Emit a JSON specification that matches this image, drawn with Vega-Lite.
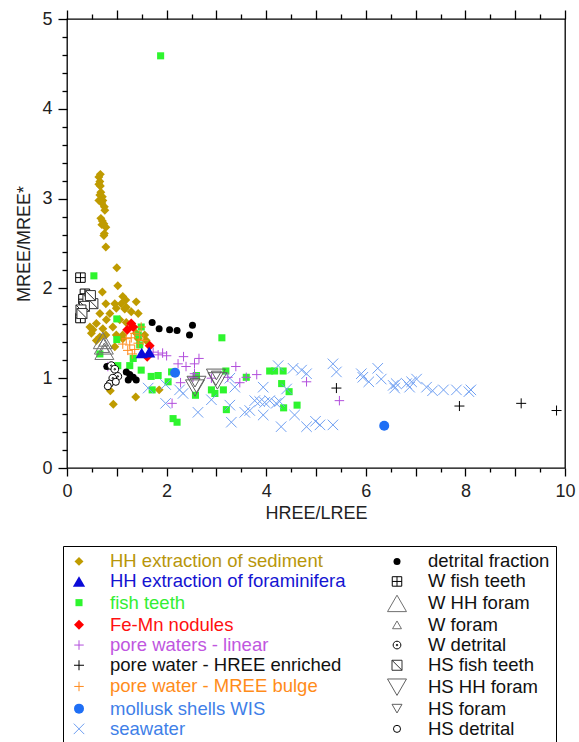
{
  "$schema": "https://vega.github.io/schema/vega-lite/v6.json",
  "width": 498,
  "height": 449,
  "autosize": {"type": "none"},
  "padding": {"left": 67, "top": 19, "right": 14, "bottom": 274},
  "background": "white",
  "config": {
    "font": "Liberation Sans",
    "view": {"stroke": "black", "strokeWidth": 1.3},
    "axis": {
      "domain": false, "grid": false,
      "labelFont": "Liberation Sans", "labelFontSize": 18, "labelColor": "#222",
      "titleFont": "Liberation Sans", "titleFontSize": 18, "titleFontWeight": "normal", "titleColor": "#222",
      "tickColor": "black", "tickWidth": 1.3, "labelOverlap": false, "labelFlush": false
    }
  },
  "data": {"values": [
    {"group": "HH extraction of sediment", "x": 0.67, "y": 3.27},
    {"group": "HH extraction of sediment", "x": 0.64, "y": 3.24},
    {"group": "HH extraction of sediment", "x": 0.66, "y": 3.19},
    {"group": "HH extraction of sediment", "x": 0.64, "y": 3.16},
    {"group": "HH extraction of sediment", "x": 0.67, "y": 3.14},
    {"group": "HH extraction of sediment", "x": 0.68, "y": 3.07},
    {"group": "HH extraction of sediment", "x": 0.66, "y": 3.04},
    {"group": "HH extraction of sediment", "x": 0.71, "y": 3.02},
    {"group": "HH extraction of sediment", "x": 0.64, "y": 2.98},
    {"group": "HH extraction of sediment", "x": 0.72, "y": 2.98},
    {"group": "HH extraction of sediment", "x": 0.70, "y": 2.95},
    {"group": "HH extraction of sediment", "x": 0.75, "y": 2.91},
    {"group": "HH extraction of sediment", "x": 0.76, "y": 2.87},
    {"group": "HH extraction of sediment", "x": 0.68, "y": 2.78},
    {"group": "HH extraction of sediment", "x": 0.71, "y": 2.75},
    {"group": "HH extraction of sediment", "x": 0.74, "y": 2.72},
    {"group": "HH extraction of sediment", "x": 0.70, "y": 2.71},
    {"group": "HH extraction of sediment", "x": 0.78, "y": 2.68},
    {"group": "HH extraction of sediment", "x": 0.75, "y": 2.61},
    {"group": "HH extraction of sediment", "x": 0.74, "y": 2.59},
    {"group": "HH extraction of sediment", "x": 0.78, "y": 2.46},
    {"group": "HH extraction of sediment", "x": 1.00, "y": 2.23},
    {"group": "HH extraction of sediment", "x": 1.02, "y": 2.03},
    {"group": "HH extraction of sediment", "x": 0.71, "y": 1.96},
    {"group": "HH extraction of sediment", "x": 1.12, "y": 1.91},
    {"group": "HH extraction of sediment", "x": 1.18, "y": 1.87},
    {"group": "HH extraction of sediment", "x": 1.39, "y": 1.85},
    {"group": "HH extraction of sediment", "x": 0.78, "y": 1.83},
    {"group": "HH extraction of sediment", "x": 0.96, "y": 1.83},
    {"group": "HH extraction of sediment", "x": 1.09, "y": 1.83},
    {"group": "HH extraction of sediment", "x": 0.99, "y": 1.78},
    {"group": "HH extraction of sediment", "x": 1.16, "y": 1.77},
    {"group": "HH extraction of sediment", "x": 1.19, "y": 1.79},
    {"group": "HH extraction of sediment", "x": 1.29, "y": 1.74},
    {"group": "HH extraction of sediment", "x": 1.43, "y": 1.72},
    {"group": "HH extraction of sediment", "x": 0.66, "y": 1.72},
    {"group": "HH extraction of sediment", "x": 0.86, "y": 1.72},
    {"group": "HH extraction of sediment", "x": 0.59, "y": 1.61},
    {"group": "HH extraction of sediment", "x": 0.79, "y": 1.65},
    {"group": "HH extraction of sediment", "x": 1.06, "y": 1.65},
    {"group": "HH extraction of sediment", "x": 1.19, "y": 1.62},
    {"group": "HH extraction of sediment", "x": 0.52, "y": 1.54},
    {"group": "HH extraction of sediment", "x": 0.46, "y": 1.57},
    {"group": "HH extraction of sediment", "x": 0.72, "y": 1.55},
    {"group": "HH extraction of sediment", "x": 0.92, "y": 1.57},
    {"group": "HH extraction of sediment", "x": 0.49, "y": 1.50},
    {"group": "HH extraction of sediment", "x": 0.66, "y": 1.46},
    {"group": "HH extraction of sediment", "x": 0.59, "y": 1.42},
    {"group": "HH extraction of sediment", "x": 0.78, "y": 1.48},
    {"group": "HH extraction of sediment", "x": 0.99, "y": 1.48},
    {"group": "HH extraction of sediment", "x": 1.12, "y": 1.48},
    {"group": "HH extraction of sediment", "x": 1.39, "y": 1.50},
    {"group": "HH extraction of sediment", "x": 1.56, "y": 1.48},
    {"group": "HH extraction of sediment", "x": 1.12, "y": 1.44},
    {"group": "HH extraction of sediment", "x": 1.43, "y": 1.44},
    {"group": "HH extraction of sediment", "x": 1.59, "y": 1.42},
    {"group": "HH extraction of sediment", "x": 0.96, "y": 1.35},
    {"group": "HH extraction of sediment", "x": 0.87, "y": 0.86},
    {"group": "HH extraction of sediment", "x": 1.38, "y": 0.79},
    {"group": "HH extraction of sediment", "x": 0.93, "y": 0.71},
    {"group": "HH extraction of sediment", "x": 1.85, "y": 0.87},
    {"group": "fish teeth", "x": 1.88, "y": 4.59},
    {"group": "fish teeth", "x": 0.54, "y": 2.14},
    {"group": "fish teeth", "x": 1.00, "y": 1.66},
    {"group": "fish teeth", "x": 1.49, "y": 1.57},
    {"group": "fish teeth", "x": 1.43, "y": 1.48},
    {"group": "fish teeth", "x": 1.00, "y": 1.43},
    {"group": "fish teeth", "x": 1.46, "y": 1.37},
    {"group": "fish teeth", "x": 0.66, "y": 1.27},
    {"group": "fish teeth", "x": 1.33, "y": 1.22},
    {"group": "fish teeth", "x": 1.26, "y": 1.14},
    {"group": "fish teeth", "x": 1.02, "y": 1.14},
    {"group": "fish teeth", "x": 1.49, "y": 1.09},
    {"group": "fish teeth", "x": 1.69, "y": 1.02},
    {"group": "fish teeth", "x": 1.83, "y": 1.03},
    {"group": "fish teeth", "x": 2.10, "y": 1.07},
    {"group": "fish teeth", "x": 2.03, "y": 0.96},
    {"group": "fish teeth", "x": 1.71, "y": 0.87},
    {"group": "fish teeth", "x": 2.60, "y": 1.03},
    {"group": "fish teeth", "x": 3.11, "y": 1.45},
    {"group": "fish teeth", "x": 3.19, "y": 1.08},
    {"group": "fish teeth", "x": 2.90, "y": 0.87},
    {"group": "fish teeth", "x": 2.97, "y": 0.83},
    {"group": "fish teeth", "x": 3.14, "y": 0.87},
    {"group": "fish teeth", "x": 2.58, "y": 0.81},
    {"group": "fish teeth", "x": 3.60, "y": 1.01},
    {"group": "fish teeth", "x": 4.07, "y": 1.08},
    {"group": "fish teeth", "x": 4.17, "y": 1.08},
    {"group": "fish teeth", "x": 4.34, "y": 1.08},
    {"group": "fish teeth", "x": 4.31, "y": 0.94},
    {"group": "fish teeth", "x": 4.46, "y": 0.85},
    {"group": "fish teeth", "x": 3.20, "y": 0.65},
    {"group": "fish teeth", "x": 4.35, "y": 0.67},
    {"group": "fish teeth", "x": 4.62, "y": 0.70},
    {"group": "fish teeth", "x": 2.13, "y": 0.55},
    {"group": "fish teeth", "x": 2.21, "y": 0.51},
    {"group": "seawater", "x": 1.63, "y": 0.89},
    {"group": "seawater", "x": 1.98, "y": 0.93},
    {"group": "seawater", "x": 1.98, "y": 0.72},
    {"group": "seawater", "x": 2.26, "y": 0.87},
    {"group": "seawater", "x": 2.33, "y": 0.83},
    {"group": "seawater", "x": 2.63, "y": 0.62},
    {"group": "seawater", "x": 2.90, "y": 0.76},
    {"group": "seawater", "x": 3.27, "y": 0.70},
    {"group": "seawater", "x": 3.30, "y": 0.51},
    {"group": "seawater", "x": 3.37, "y": 0.90},
    {"group": "seawater", "x": 3.27, "y": 1.00},
    {"group": "seawater", "x": 3.57, "y": 0.62},
    {"group": "seawater", "x": 3.67, "y": 0.64},
    {"group": "seawater", "x": 3.77, "y": 0.75},
    {"group": "seawater", "x": 3.87, "y": 0.74},
    {"group": "seawater", "x": 3.97, "y": 0.73},
    {"group": "seawater", "x": 3.94, "y": 0.90},
    {"group": "seawater", "x": 3.94, "y": 0.59},
    {"group": "seawater", "x": 4.07, "y": 0.75},
    {"group": "seawater", "x": 4.20, "y": 0.72},
    {"group": "seawater", "x": 4.27, "y": 0.74},
    {"group": "seawater", "x": 4.24, "y": 1.14},
    {"group": "seawater", "x": 4.41, "y": 0.88},
    {"group": "seawater", "x": 4.54, "y": 1.11},
    {"group": "seawater", "x": 4.71, "y": 1.09},
    {"group": "seawater", "x": 4.81, "y": 1.05},
    {"group": "seawater", "x": 4.30, "y": 0.46},
    {"group": "seawater", "x": 4.57, "y": 0.59},
    {"group": "seawater", "x": 4.81, "y": 0.46},
    {"group": "seawater", "x": 4.99, "y": 0.52},
    {"group": "seawater", "x": 5.08, "y": 0.48},
    {"group": "seawater", "x": 5.34, "y": 0.48},
    {"group": "seawater", "x": 5.34, "y": 1.16},
    {"group": "seawater", "x": 5.41, "y": 1.07},
    {"group": "seawater", "x": 5.91, "y": 1.05},
    {"group": "seawater", "x": 5.94, "y": 1.01},
    {"group": "seawater", "x": 6.06, "y": 0.96},
    {"group": "seawater", "x": 6.24, "y": 1.11},
    {"group": "seawater", "x": 6.31, "y": 0.99},
    {"group": "seawater", "x": 6.55, "y": 0.92},
    {"group": "seawater", "x": 6.58, "y": 0.89},
    {"group": "seawater", "x": 6.61, "y": 0.94},
    {"group": "seawater", "x": 6.82, "y": 0.94},
    {"group": "seawater", "x": 6.88, "y": 0.90},
    {"group": "seawater", "x": 6.92, "y": 0.96},
    {"group": "seawater", "x": 7.02, "y": 0.99},
    {"group": "seawater", "x": 7.22, "y": 0.90},
    {"group": "seawater", "x": 7.34, "y": 0.86},
    {"group": "seawater", "x": 7.56, "y": 0.87},
    {"group": "seawater", "x": 7.82, "y": 0.87},
    {"group": "seawater", "x": 8.07, "y": 0.85},
    {"group": "seawater", "x": 8.11, "y": 0.87},
    {"group": "pore waters - linear", "x": 1.73, "y": 1.29},
    {"group": "pore waters - linear", "x": 1.83, "y": 1.26},
    {"group": "pore waters - linear", "x": 1.92, "y": 1.28},
    {"group": "pore waters - linear", "x": 2.00, "y": 1.25},
    {"group": "pore waters - linear", "x": 2.34, "y": 1.24},
    {"group": "pore waters - linear", "x": 2.65, "y": 1.22},
    {"group": "pore waters - linear", "x": 2.23, "y": 1.16},
    {"group": "pore waters - linear", "x": 2.39, "y": 1.13},
    {"group": "pore waters - linear", "x": 2.56, "y": 1.16},
    {"group": "pore waters - linear", "x": 2.56, "y": 1.05},
    {"group": "pore waters - linear", "x": 2.28, "y": 0.95},
    {"group": "pore waters - linear", "x": 2.53, "y": 1.01},
    {"group": "pore waters - linear", "x": 2.90, "y": 1.00},
    {"group": "pore waters - linear", "x": 3.23, "y": 1.01},
    {"group": "pore waters - linear", "x": 3.39, "y": 1.13},
    {"group": "pore waters - linear", "x": 3.47, "y": 0.95},
    {"group": "pore waters - linear", "x": 3.60, "y": 1.01},
    {"group": "pore waters - linear", "x": 3.81, "y": 1.04},
    {"group": "pore waters - linear", "x": 4.81, "y": 0.96},
    {"group": "pore waters - linear", "x": 5.47, "y": 0.75},
    {"group": "pore waters - linear", "x": 2.11, "y": 0.72},
    {"group": "pore waters - linear", "x": 0.82, "y": 1.13},
    {"group": "pore water - MREE bulge", "x": 1.49, "y": 1.57},
    {"group": "pore water - MREE bulge", "x": 1.36, "y": 1.50},
    {"group": "pore water - MREE bulge", "x": 1.46, "y": 1.48},
    {"group": "pore water - MREE bulge", "x": 1.19, "y": 1.44},
    {"group": "pore water - MREE bulge", "x": 1.29, "y": 1.45},
    {"group": "pore water - MREE bulge", "x": 1.53, "y": 1.42},
    {"group": "pore water - MREE bulge", "x": 1.12, "y": 1.38},
    {"group": "pore water - MREE bulge", "x": 1.26, "y": 1.37},
    {"group": "pore water - MREE bulge", "x": 1.43, "y": 1.39},
    {"group": "pore water - MREE bulge", "x": 1.22, "y": 1.31},
    {"group": "pore water - MREE bulge", "x": 1.36, "y": 1.32},
    {"group": "pore water - MREE bulge", "x": 1.31, "y": 1.27},
    {"group": "pore water - HREE enriched", "x": 5.41, "y": 0.89},
    {"group": "pore water - HREE enriched", "x": 7.88, "y": 0.69},
    {"group": "pore water - HREE enriched", "x": 9.12, "y": 0.72},
    {"group": "pore water - HREE enriched", "x": 9.83, "y": 0.64},
    {"group": "Fe-Mn nodules", "x": 1.29, "y": 1.61},
    {"group": "Fe-Mn nodules", "x": 1.21, "y": 1.54},
    {"group": "Fe-Mn nodules", "x": 1.33, "y": 1.57},
    {"group": "Fe-Mn nodules", "x": 1.66, "y": 1.36},
    {"group": "Fe-Mn nodules", "x": 1.61, "y": 1.24},
    {"group": "HH extraction of foraminifera", "x": 1.50, "y": 1.28},
    {"group": "HH extraction of foraminifera", "x": 1.65, "y": 1.29},
    {"group": "mollusk shells WIS", "x": 2.17, "y": 1.06},
    {"group": "mollusk shells WIS", "x": 6.37, "y": 0.47},
    {"group": "detrital fraction", "x": 1.71, "y": 1.62},
    {"group": "detrital fraction", "x": 1.85, "y": 1.55},
    {"group": "detrital fraction", "x": 2.06, "y": 1.54},
    {"group": "detrital fraction", "x": 2.21, "y": 1.53},
    {"group": "detrital fraction", "x": 2.52, "y": 1.59},
    {"group": "detrital fraction", "x": 2.46, "y": 1.48},
    {"group": "detrital fraction", "x": 1.19, "y": 1.07},
    {"group": "detrital fraction", "x": 1.26, "y": 1.04},
    {"group": "detrital fraction", "x": 1.33, "y": 1.01},
    {"group": "detrital fraction", "x": 1.23, "y": 0.98},
    {"group": "detrital fraction", "x": 1.39, "y": 0.98},
    {"group": "detrital fraction", "x": 0.80, "y": 1.13},
    {"group": "W fish teeth", "x": 0.27, "y": 2.12},
    {"group": "W fish teeth", "x": 0.36, "y": 1.94},
    {"group": "W fish teeth", "x": 0.33, "y": 1.88},
    {"group": "W fish teeth", "x": 0.27, "y": 1.67},
    {"group": "HS fish teeth", "x": 0.42, "y": 1.88},
    {"group": "HS fish teeth", "x": 0.52, "y": 1.83},
    {"group": "HS fish teeth", "x": 0.35, "y": 1.80},
    {"group": "HS fish teeth", "x": 0.28, "y": 1.76},
    {"group": "HS fish teeth", "x": 0.30, "y": 1.72},
    {"group": "HS fish teeth", "x": 0.47, "y": 1.92},
    {"group": "W HH foram", "x": 0.72, "y": 1.42},
    {"group": "W HH foram", "x": 0.74, "y": 1.36},
    {"group": "W HH foram", "x": 0.75, "y": 1.30},
    {"group": "W foram", "x": 0.73, "y": 1.40},
    {"group": "W foram", "x": 0.76, "y": 1.33},
    {"group": "W detrital", "x": 0.89, "y": 1.14},
    {"group": "W detrital", "x": 0.96, "y": 1.10},
    {"group": "W detrital", "x": 1.02, "y": 1.02},
    {"group": "W detrital", "x": 0.92, "y": 1.00},
    {"group": "HS detrital", "x": 0.86, "y": 0.94},
    {"group": "HS detrital", "x": 0.82, "y": 0.91},
    {"group": "HS detrital", "x": 0.98, "y": 0.96},
    {"group": "HS HH foram", "x": 2.57, "y": 0.89},
    {"group": "HS HH foram", "x": 2.60, "y": 0.93},
    {"group": "HS HH foram", "x": 3.02, "y": 0.97},
    {"group": "HS HH foram", "x": 2.99, "y": 1.01},
    {"group": "HS foram", "x": 2.57, "y": 0.95},
    {"group": "HS foram", "x": 3.00, "y": 1.03}
  ]},
  "layer": [
    {
      "mark": {"type": "point", "opacity": 1, "strokeWidth": 1},
      "encoding": {
        "x": {"field": "x", "type": "quantitative",
          "scale": {"domain": [0, 10], "nice": false, "zero": false},
          "axis": {"orient": "bottom", "title": "HREE/LREE", "titlePadding": 4, "labelPadding": 6,
            "values": [0,0.5,1,1.5,2,2.5,3,3.5,4,4.5,5,5.5,6,6.5,7,7.5,8,8.5,9,9.5,10],
            "labelExpr": "abs(datum.value/2-round(datum.value/2))<0.001 ? format(datum.value,'d') : ''",
            "tickSize": {"condition": {"test": "abs(datum.value-round(datum.value))<0.001", "value": 8}, "value": 4}}},
        "y": {"field": "y", "type": "quantitative",
          "scale": {"domain": [0, 5], "nice": false, "zero": false},
          "axis": {"orient": "left", "title": "MREE/MREE*", "titlePadding": 8, "labelPadding": 6,
            "values": [0,0.2,0.4,0.6,0.8,1,1.2,1.4,1.6,1.8,2,2.2,2.4,2.6,2.8,3,3.2,3.4,3.6,3.8,4,4.2,4.4,4.6,4.8,5],
            "labelExpr": "abs(datum.value-round(datum.value))<0.001 ? format(datum.value,'d') : ''",
            "tickSize": {"condition": {"test": "abs(datum.value-round(datum.value))<0.001", "value": 9}, "value": 5}}},
        "fill": {"field": "group", "type": "nominal",
          "scale": {
            "domain": ["HH extraction of sediment","HH extraction of foraminifera","fish teeth","Fe-Mn nodules","pore waters - linear","pore water - HREE enriched","pore water - MREE bulge","mollusk shells WIS","seawater","detrital fraction","W fish teeth","W HH foram","W foram","W detrital","HS fish teeth","HS HH foram","HS foram","HS detrital"],
            "range": ["#bf9b00","#0a0ad8","#2ef52e","#ff0000","transparent","transparent","transparent","#1f6ff5","transparent","black","white","transparent","transparent","white","white","transparent","transparent","white"]},
          "legend": {
            "title": null, "orient": "none", "legendX": -4, "legendY": 527, "columns": 2,
            "strokeColor": "black", "padding": 6, "cornerRadius": 0,
            "labelFont": "Liberation Sans", "labelFontSize": 18.5, "labelLimit": 400,
            "labelOffset": 21, "columnPadding": 39, "rowPadding": 1.2, "symbolStrokeWidth": 1,
            "labelColor": {"expr": "indexof(['HH extraction of sediment','HH extraction of foraminifera','fish teeth','Fe-Mn nodules','pore waters - linear','pore water - MREE bulge','mollusk shells WIS','seawater'], datum.value) >= 0 ? ['#b8960b','#1414d2','#33ee33','#ff1010','#c056e0','#ff8c1a','#3f7fe8','#3f7fe8'][indexof(['HH extraction of sediment','HH extraction of foraminifera','fish teeth','Fe-Mn nodules','pore waters - linear','pore water - MREE bulge','mollusk shells WIS','seawater'], datum.value)] : '#111'"}
          }},
        "stroke": {"field": "group", "type": "nominal",
          "scale": {
            "domain": ["HH extraction of sediment","HH extraction of foraminifera","fish teeth","Fe-Mn nodules","pore waters - linear","pore water - HREE enriched","pore water - MREE bulge","mollusk shells WIS","seawater","detrital fraction","W fish teeth","W HH foram","W foram","W detrital","HS fish teeth","HS HH foram","HS foram","HS detrital"],
            "range": ["transparent","transparent","transparent","transparent","#b24fdc","black","#ff8a1c","transparent","#6f9ff2","transparent","black","#707070","#707070","black","#303030","#606060","#606060","black"]}},
        "shape": {"field": "group", "type": "nominal",
          "scale": {
            "domain": ["HH extraction of sediment","HH extraction of foraminifera","fish teeth","Fe-Mn nodules","pore waters - linear","pore water - HREE enriched","pore water - MREE bulge","mollusk shells WIS","seawater","detrital fraction","W fish teeth","W HH foram","W foram","W detrital","HS fish teeth","HS HH foram","HS foram","HS detrital"],
            "range": ["diamond","triangle-up","square","diamond","M-1,0H1M0,-1V1","M-1,0H1M0,-1V1","M-1,0H1M0,-1V1","circle","M-1,-1L1,1M-1,1L1,-1","circle","M-1,-1H1V1H-1Z M0,-1V1 M-1,0H1","triangle-up","triangle-up","M-1,0A1,1,0,1,0,1,0A1,1,0,1,0,-1,0Z M-0.2,0A0.2,0.2,0,1,0,0.2,0A0.2,0.2,0,1,0,-0.2,0Z","M-1,-1H1V1H-1Z M-1,-1L1,1","triangle-down","triangle-down","circle"]}},
        "size": {"field": "group", "type": "nominal",
          "scale": {"type": "ordinal",
            "domain": ["HH extraction of sediment","HH extraction of foraminifera","fish teeth","Fe-Mn nodules","pore waters - linear","pore water - HREE enriched","pore water - MREE bulge","mollusk shells WIS","seawater","detrital fraction","W fish teeth","W HH foram","W foram","W detrital","HS fish teeth","HS HH foram","HS foram","HS detrital"],
            "range": [80,150,50,100,90,100,90,100,110,49,90,360,80,60,100,360,100,50]}}
      }
    },
    {
      "mark": {"type": "point", "opacity": 0},
      "encoding": {
        "x": {"field": "x", "type": "quantitative",
          "axis": {"orient": "top", "title": null, "labels": false,
            "values": [0,0.5,1,1.5,2,2.5,3,3.5,4,4.5,5,5.5,6,6.5,7,7.5,8,8.5,9,9.5,10],
            "tickSize": {"condition": {"test": "abs(datum.value-round(datum.value))<0.001", "value": 9}, "value": 5}}},
        "y": {"field": "y", "type": "quantitative", "axis": null}
      }
    }
  ],
  "resolve": {"axis": {"x": "independent", "y": "independent"}}
}
